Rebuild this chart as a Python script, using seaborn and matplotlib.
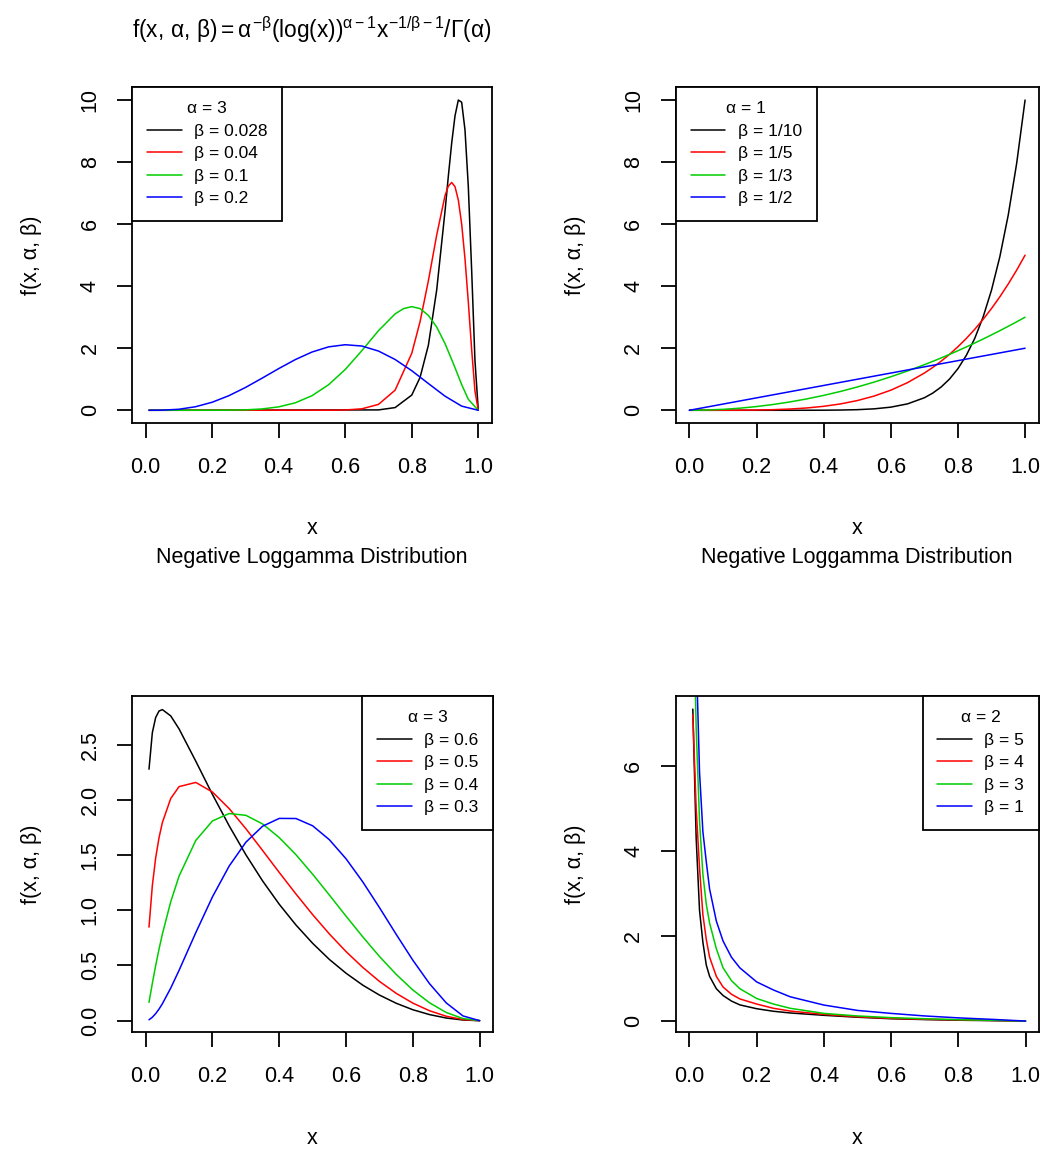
import pandas as pd
import seaborn as sns
import matplotlib
matplotlib.use("Agg")
import matplotlib.pyplot as plt

# ---------------- data ----------------
colors = ['black', '#FF0000', '#00CD00', '#0000FF']

# panel 1 : alpha = 3, small beta
p1_title = 'α = 3'
p1_labels = ['β = 0.028', 'β = 0.04', 'β = 0.1', 'β = 0.2']
p1_black_x = [0.01, 0.7, 0.75, 0.8, 0.825, 0.85, 0.875, 0.9, 0.91, 0.92, 0.93, 0.94, 0.95, 0.96, 0.97, 0.98, 0.99, 1.0]
p1_black_y = [0.0, 0.012, 0.087, 0.49, 1.06, 2.1, 3.88, 6.42, 7.55, 8.61, 9.49, 10.0, 9.93, 9.04, 7.21, 4.53, 1.6, 0.0]
p1_red_x = [0.01, 0.55, 0.6, 0.65, 0.7, 0.75, 0.8, 0.825, 0.85, 0.875, 0.9, 0.91, 0.92, 0.93, 0.94, 0.95, 0.96, 0.97, 0.98, 0.99, 1.0]
p1_red_y = [0.0, 0.002, 0.01, 0.047, 0.19, 0.649, 1.836, 2.857, 4.176, 5.65, 6.92, 7.226, 7.343, 7.208, 6.776, 6.002, 4.886, 3.49, 1.963, 0.62, 0.0]
p1_green_x = [0.01, 0.2, 0.25, 0.3, 0.35, 0.4, 0.45, 0.5, 0.55, 0.6, 0.65, 0.7, 0.75, 0.775, 0.8, 0.825, 0.85, 0.875, 0.9, 0.925, 0.95, 0.97, 1.0]
p1_green_y = [0.0, 0.001, 0.004, 0.014, 0.043, 0.11, 0.241, 0.469, 0.823, 1.315, 1.922, 2.566, 3.107, 3.275, 3.341, 3.277, 3.058, 2.681, 2.15, 1.507, 0.829, 0.353, 0.0]
p1_blue_x = [0.01, 0.05, 0.1, 0.15, 0.2, 0.25, 0.3, 0.35, 0.4, 0.45, 0.5, 0.55, 0.6, 0.65, 0.7, 0.75, 0.8, 0.85, 0.9, 0.95, 1.0]
p1_blue_y = [0.0, 0.004, 0.033, 0.114, 0.259, 0.469, 0.734, 1.034, 1.343, 1.634, 1.877, 2.044, 2.113, 2.071, 1.909, 1.637, 1.275, 0.862, 0.455, 0.134, 0.0]

# panel 2 : alpha = 1
p2_title = 'α = 1'
p2_labels = ['β = 1/10', 'β = 1/5', 'β = 1/3', 'β = 1/2']
p2_x = [0.0, 0.05, 0.1, 0.15, 0.2, 0.25, 0.3, 0.35, 0.4, 0.45, 0.5, 0.55, 0.6, 0.65, 0.7,
        0.725, 0.75, 0.775, 0.8, 0.825, 0.85, 0.875, 0.9, 0.925, 0.95, 0.975, 1.0]
p2_black_y = [0, 0, 0, 0, 0, 0, 0.0002, 0.0008, 0.0026, 0.0076, 0.0195, 0.046, 0.101, 0.207, 0.404,
              0.554, 0.751, 1.008, 1.342, 1.771, 2.316, 3.007, 3.874, 4.958, 6.302, 7.962, 10.0]
p2_red_y = [0, 0, 0.0005, 0.0025, 0.008, 0.0195, 0.0405, 0.075, 0.128, 0.205, 0.3125, 0.4575, 0.648, 0.8925, 1.2005,
            1.381, 1.582, 1.804, 2.048, 2.316, 2.61, 2.931, 3.2805, 3.66, 4.073, 4.518, 5.0]
p2_green_y = [0, 0.0075, 0.03, 0.0675, 0.12, 0.1875, 0.27, 0.3675, 0.48, 0.6075, 0.75, 0.9075, 1.08, 1.2675, 1.47,
              1.577, 1.6875, 1.802, 1.92, 2.042, 2.1675, 2.297, 2.43, 2.567, 2.7075, 2.852, 3.0]
p2_blue_y = [0, 0.1, 0.2, 0.3, 0.4, 0.5, 0.6, 0.7, 0.8, 0.9, 1.0, 1.1, 1.2, 1.3, 1.4,
             1.45, 1.5, 1.55, 1.6, 1.65, 1.7, 1.75, 1.8, 1.85, 1.9, 1.95, 2.0]

# panel 3 : alpha = 3, larger beta
p3_title = 'α = 3'
p3_labels = ['β = 0.6', 'β = 0.5', 'β = 0.4', 'β = 0.3']
p3_x = [0.01, 0.02, 0.03, 0.04, 0.05, 0.075, 0.1, 0.15, 0.2, 0.25, 0.3, 0.35, 0.4, 0.45,
        0.5, 0.55, 0.6, 0.65, 0.7, 0.75, 0.8, 0.85, 0.9, 0.95, 1.0]
p3_black_y = [2.279, 2.61, 2.748, 2.806, 2.819, 2.762, 2.644, 2.352, 2.05, 1.766, 1.504, 1.267, 1.055, 0.867,
              0.701, 0.555, 0.43, 0.322, 0.232, 0.158, 0.099, 0.055, 0.024, 0.006, 0.0]
p3_red_y = [0.848, 1.224, 1.476, 1.658, 1.795, 2.013, 2.121, 2.159, 2.072, 1.922, 1.74, 1.543, 1.343, 1.148,
            0.961, 0.786, 0.626, 0.483, 0.356, 0.248, 0.159, 0.09, 0.04, 0.01, 0.0]
p3_green_y = [0.166, 0.338, 0.499, 0.648, 0.784, 1.077, 1.31, 1.633, 1.81, 1.877, 1.861, 1.783, 1.659, 1.504,
              1.327, 1.139, 0.947, 0.76, 0.582, 0.42, 0.278, 0.162, 0.074, 0.019, 0.0]
p3_blue_y = [0.008, 0.031, 0.064, 0.105, 0.153, 0.295, 0.456, 0.797, 1.122, 1.401, 1.617, 1.762, 1.833, 1.832,
             1.766, 1.64, 1.467, 1.258, 1.025, 0.783, 0.548, 0.335, 0.161, 0.043, 0.0]

# panel 4 : alpha = 2
p4_title = 'α = 2'
p4_labels = ['β = 5', 'β = 4', 'β = 3', 'β = 1']
p4_x = [0.01, 0.02, 0.03, 0.04, 0.05, 0.06, 0.08, 0.1, 0.125, 0.15, 0.2, 0.25, 0.3, 0.4, 0.5, 0.6, 0.7, 0.8, 0.9, 1.0]
p4_black_y = [7.33, 4.3, 2.6, 1.85, 1.32, 1.05, 0.76, 0.6, 0.47, 0.38, 0.29, 0.23, 0.19, 0.135, 0.09, 0.055, 0.035, 0.02, 0.01, 0.0]
p4_red_y = [7.2, 5.0, 3.6, 2.5, 1.92, 1.5, 1.05, 0.8, 0.63, 0.52, 0.4, 0.3, 0.235, 0.157, 0.1, 0.063, 0.042, 0.028, 0.015, 0.0]
p4_green_y = [10.5, 6.9, 4.7, 3.45, 2.75, 2.3, 1.7, 1.25, 0.95, 0.76, 0.53, 0.4, 0.3, 0.18, 0.12, 0.08, 0.055, 0.033, 0.018, 0.0]
p4_blue_y = [15.0, 8.7, 5.85, 4.45, 3.75, 3.1, 2.35, 1.88, 1.5, 1.25, 0.92, 0.73, 0.57, 0.376, 0.25, 0.18, 0.12, 0.075, 0.04, 0.0]

x_ticks = [0.0, 0.2, 0.4, 0.6, 0.8, 1.0]


# ---------------- style ----------------
sns.set_style('ticks')
plt.rcParams['font.family'] = ['Liberation Sans', 'DejaVu Sans']
plt.rcParams['text.color'] = 'black'
plt.rcParams['axes.labelcolor'] = 'black'
plt.rcParams['xtick.color'] = 'black'
plt.rcParams['ytick.color'] = 'black'
plt.rcParams['mathtext.fontset'] = 'custom'
plt.rcParams['mathtext.rm'] = 'Liberation Sans'
plt.rcParams['mathtext.it'] = 'Liberation Sans'
plt.rcParams['mathtext.bf'] = 'Liberation Sans:bold'

W, H = 1045, 1152
fig = plt.figure(figsize=(W / 100, H / 100), dpi=100)


def rect(l, t, r, b):
    return [l / W, 1 - b / H, (r - l) / W, (b - t) / H]


def long_df(curves, labels):
    frames = []
    for (xs, ys), lab in zip(curves, labels):
        frames.append(pd.DataFrame({'x': xs, 'f': ys, 'curve': lab}))
    return pd.concat(frames, ignore_index=True)


def draw_panel(box, curves, labels, leg_title, loc, ylim, yticks, ytl):
    ax = fig.add_axes(rect(*box))
    df = long_df(curves, labels)
    sns.lineplot(data=df, x='x', y='f', hue='curve', hue_order=labels,
                 palette=colors, estimator=None, sort=False, legend=False,
                 linewidth=1.1, ax=ax)
    ax.set_xlim(-0.04, 1.04)
    ax.set_ylim(*ylim)
    ax.set_xticks(x_ticks)
    ax.set_xticklabels([f'{t:.1f}' for t in x_ticks])
    ax.set_yticks(yticks)
    ax.set_yticklabels(ytl, rotation=90, va='center')
    ax.set_xlabel('')
    ax.set_ylabel('')
    for sp in ax.spines.values():
        sp.set_visible(True)
        sp.set_linewidth(1.3)
        sp.set_color('black')
    ax.tick_params(axis='both', direction='out', length=10.8, width=1.3,
                   labelsize=15.5, colors='black')
    ax.tick_params(axis='x', pad=14)
    ax.tick_params(axis='y', pad=12)
    leg = ax.legend(ax.lines[:4], labels, title=leg_title, loc=loc,
                    borderaxespad=0, fontsize=12.5, title_fontsize=12.5,
                    frameon=True, fancybox=False, framealpha=1,
                    handlelength=2.0, handletextpad=0.7, labelspacing=0.42,
                    borderpad=0.85)
    leg.get_frame().set_edgecolor('black')
    leg.get_frame().set_linewidth(1.3)
    return ax


draw_panel((132.3, 86.7, 491.6, 423),
           [(p1_black_x, p1_black_y), (p1_red_x, p1_red_y),
            (p1_green_x, p1_green_y), (p1_blue_x, p1_blue_y)],
           p1_labels, p1_title, 'upper left', (-0.41, 10.43),
           [0, 2, 4, 6, 8, 10], ['0', '2', '4', '6', '8', '10'])

draw_panel((676, 86.7, 1038.5, 423),
           [(p2_x, p2_black_y), (p2_x, p2_red_y),
            (p2_x, p2_green_y), (p2_x, p2_blue_y)],
           p2_labels, p2_title, 'upper left', (-0.41, 10.43),
           [0, 2, 4, 6, 8, 10], ['0', '2', '4', '6', '8', '10'])

draw_panel((132.3, 695.7, 493, 1031.7),
           [(p3_x, p3_black_y), (p3_x, p3_red_y),
            (p3_x, p3_green_y), (p3_x, p3_blue_y)],
           p3_labels, p3_title, 'upper right', (-0.1, 2.945),
           [0, 0.5, 1.0, 1.5, 2.0, 2.5], ['0.0', '0.5', '1.0', '1.5', '2.0', '2.5'])

draw_panel((676, 695.7, 1039, 1031.7),
           [(p4_x, p4_black_y), (p4_x, p4_red_y),
            (p4_x, p4_green_y), (p4_x, p4_blue_y)],
           p4_labels, p4_title, 'upper right', (-0.25, 7.645),
           [0, 2, 4, 6], ['0', '2', '4', '6'])

# axis titles and captions
fs = 15.5
for cx, cy in [(312, 529), (857, 529), (312, 1138), (857, 1138)]:
    fig.text(cx / W, 1 - cy / H, 'x', ha='center', va='center', fontsize=fs)
for cx in (312, 857):
    fig.text(cx / W, 1 - 558 / H, 'Negative Loggamma Distribution',
             ha='center', va='center', fontsize=fs)
for cx, cy in [(32, 255), (576, 255), (32, 864), (576, 864)]:
    fig.text(cx / W, 1 - cy / H, 'f(x, α, β)', ha='center', va='center',
             rotation=90, fontsize=fs)

fig.text(312 / W, 1 - 30 / H,
         r'$f(x,\,\alpha,\,\beta) = \alpha^{-\beta}(\log(x))^{\alpha-1}x^{-1/\beta-1}/\Gamma(\alpha)$',
         ha='center', va='center', fontsize=16.3)

fig.savefig('out.png', dpi=100)
